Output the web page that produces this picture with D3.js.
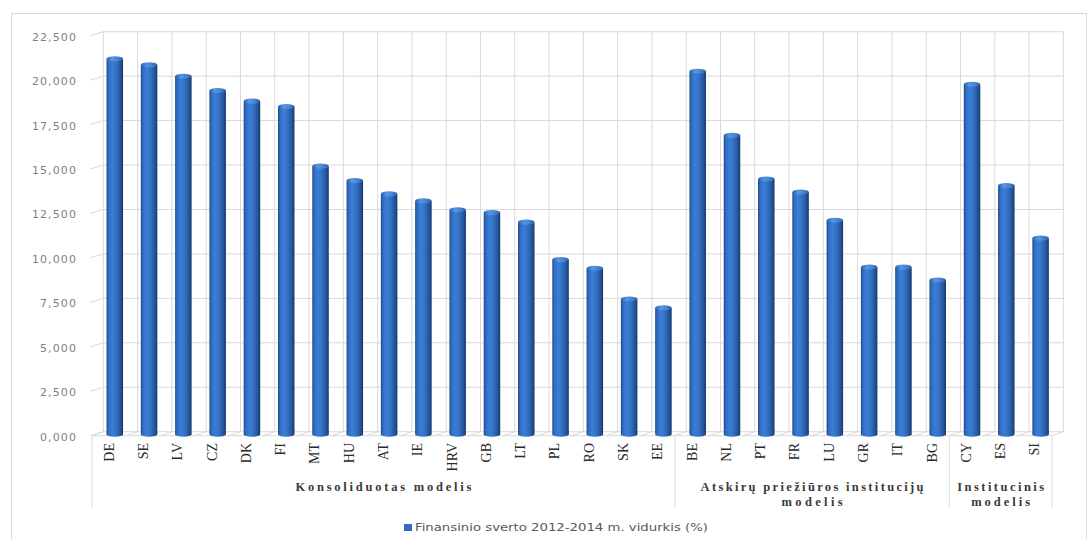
<!DOCTYPE html>
<html>
<head>
<meta charset="utf-8">
<script src="https://cdn.jsdelivr.net/npm/d3@7"></script>
<style>
  html, body { margin: 0; padding: 0; background: #fff; }
  svg { display: block; }
</style>
</head>
<body>
<svg id="chart" width="1090" height="539"></svg>
<script>
// ---------- DATA ----------
const categories = ["DE","SE","LV","CZ","DK","FI","MT","HU","AT","IE","HRV","GB","LT","PL","RO","SK","EE",
                    "BE","NL","PT","FR","LU","GR","IT","BG",
                    "CY","ES","SI"];
const values = [21.12,20.78,20.14,19.34,18.74,18.44,15.08,14.27,13.52,13.13,12.62,12.47,11.93,9.83,9.34,7.61,7.11,
                20.42,16.81,14.36,13.62,12.04,9.40,9.40,8.68,
                19.69,13.99,11.03];
const groupNames = [["Konsoliduotas modelis"], ["Atskirų priežiūros institucijų", "modelis"], ["Institucinis", "modelis"]];
const groupSizes = [17, 8, 3];
const yTicks = [0, 2.5, 5, 7.5, 10, 12.5, 15, 17.5, 20, 22.5];
const seriesName = "Finansinio sverto 2012-2014 m. vidurkis (%)";

// ---------- LAYOUT ----------
const svg = d3.select("#chart");
const backL = 103.3, backR = 1063.4;
const dx = -11.3, dy = 4;          // 3D depth offset (back -> front)
const yBase = 431.7, yTopPx = 31.7;
const grid = "#d9d9d9";

const y = d3.scaleLinear().domain([0, 22.5]).range([yBase, yTopPx]);
const xBack = d3.scaleBand().domain(categories).range([backL, backR]).paddingInner(0).paddingOuter(0);
const xFront = d3.scaleBand().domain(categories).range([backL + dx, backR + dx]).paddingInner(0).paddingOuter(0);
const lt = d3.formatLocale({decimal: ",", thousands: " ", grouping: [3], currency: ["", "€"]});
const fmt = lt.format(".3f");

// chart border
svg.append("rect").attr("x", 11.5).attr("y", 13.5).attr("width", 1075).attr("height", 540)
  .attr("fill", "none").attr("stroke", "#d9d9d9");

// gradients
const defs = svg.append("defs");
const g1 = defs.append("linearGradient").attr("id", "cyl").attr("x1", 0).attr("x2", 1).attr("y1", 0).attr("y2", 0);
[[0, "#1c4582"], [0.12, "#2f6dc2"], [0.35, "#3b7dd6"], [0.6, "#3370c2"], [0.85, "#24549a"], [1, "#173766"]]
  .forEach(([o, c]) => g1.append("stop").attr("offset", o).attr("stop-color", c));
const g2 = defs.append("linearGradient").attr("id", "cap").attr("x1", 0).attr("x2", 1).attr("y1", 0).attr("y2", 0);
[[0, "#2c62ad"], [0.35, "#5796e3"], [0.7, "#4582d2"], [1, "#2a5ca3"]]
  .forEach(([o, c]) => g2.append("stop").attr("offset", o).attr("stop-color", c));

// horizontal gridlines on back wall + diagonal side-wall ticks
const gridG = svg.append("g");
yTicks.forEach(t => {
  gridG.append("line").attr("x1", backL).attr("x2", backR).attr("y1", y(t)).attr("y2", y(t))
    .attr("stroke", grid).attr("stroke-width", 1);
  gridG.append("line").attr("x1", backL).attr("x2", backL - 13).attr("y1", y(t)).attr("y2", y(t) + 4)
    .attr("stroke", grid).attr("stroke-width", 1);
});
// vertical gridlines
const bounds = categories.map(c => xBack(c)).concat([backR]);
bounds.forEach(bx => {
  gridG.append("line").attr("x1", bx).attr("x2", bx).attr("y1", yTopPx).attr("y2", yBase)
    .attr("stroke", grid).attr("stroke-width", 1);
  gridG.append("line").attr("x1", bx).attr("x2", bx + dx).attr("y1", yBase).attr("y2", yBase + dy)
    .attr("stroke", grid).attr("stroke-width", 1);
});
gridG.append("line").attr("x1", backL + dx).attr("x2", backR + dx).attr("y1", yBase + dy).attr("y2", yBase + dy)
  .attr("stroke", grid);

// y-axis labels
svg.append("g").selectAll("text").data(yTicks).join("text")
  .attr("x", 77).attr("y", d => y(d) + 5.5)
  .attr("text-anchor", "end").attr("dominant-baseline", "central")
  .attr("font-family", "DejaVu Sans, sans-serif").attr("font-size", 11)
  .attr("letter-spacing", 1.1).attr("fill", "#7f7f7f")
  .text(d => fmt(d));

// bars (cylinders)
const bw = 16.5, ry = 2.6;
const barG = svg.append("g");
categories.forEach((c, i) => {
  const cx = (xBack(c) + xFront(c)) / 2 + xBack.bandwidth() / 2;
  const top = y(values[i]);
  const bottom = yBase + 2.5;
  barG.append("path")
    .attr("d", `M${cx - bw/2},${top + ry} L${cx - bw/2},${bottom} A${bw/2},${ry} 0 0 0 ${cx + bw/2},${bottom} L${cx + bw/2},${top + ry} Z`)
    .attr("fill", "url(#cyl)");
  barG.append("ellipse").attr("cx", cx).attr("cy", top + ry).attr("rx", bw / 2).attr("ry", ry)
    .attr("fill", "url(#cap)");
});

// category labels (rotated)
svg.append("g").selectAll("text").data(categories).join("text")
  .attr("transform", d => `translate(${xFront(d) + xFront.bandwidth() / 2},443) rotate(-90)`)
  .attr("text-anchor", "end").attr("dominant-baseline", "central")
  .attr("font-family", "Liberation Serif, Times New Roman, serif").attr("font-size", 14)
  .attr("fill", "#2b2b2b")
  .text(d => d);

// group separators and labels
let idx = 0;
const sepX = [xFront(categories[0])];
const groupRanges = groupSizes.map(n => {
  const x0 = xFront(categories[idx]);
  const x1 = xFront(categories[idx + n - 1]) + xFront.bandwidth();
  idx += n;
  sepX.push(x1);
  return [x0, x1];
});
sepX.forEach(sx => {
  svg.append("line").attr("x1", sx).attr("x2", sx).attr("y1", yBase + dy + 1).attr("y2", 508)
    .attr("stroke", grid);
});
const groupWidths = [[176], [223, 61], [87, 59]];
groupNames.forEach((lines, gi) => {
  const cx = (groupRanges[gi][0] + groupRanges[gi][1]) / 2;
  lines.forEach((ln, li) => {
    svg.append("text").attr("x", cx).attr("y", 491 + li * 14.5)
      .attr("text-anchor", "middle")
      .attr("font-family", "Liberation Serif, Times New Roman, serif").attr("font-size", 12.5)
      .attr("font-weight", "bold").attr("fill", "#3a3a3a")
      .attr("textLength", groupWidths[gi][li]).attr("lengthAdjust", "spacing")
      .text(ln);
  });
});

// legend
svg.append("rect").attr("x", 404).attr("y", 524).attr("width", 8).attr("height", 7).attr("fill", "#2f6cc0");
svg.append("text").attr("x", 415).attr("y", 531)
  .attr("font-family", "DejaVu Sans, sans-serif").attr("font-size", 10.5).attr("fill", "#595959")
  .attr("textLength", 293).attr("lengthAdjust", "spacingAndGlyphs")
  .text(seriesName);
</script>
</body>
</html>
